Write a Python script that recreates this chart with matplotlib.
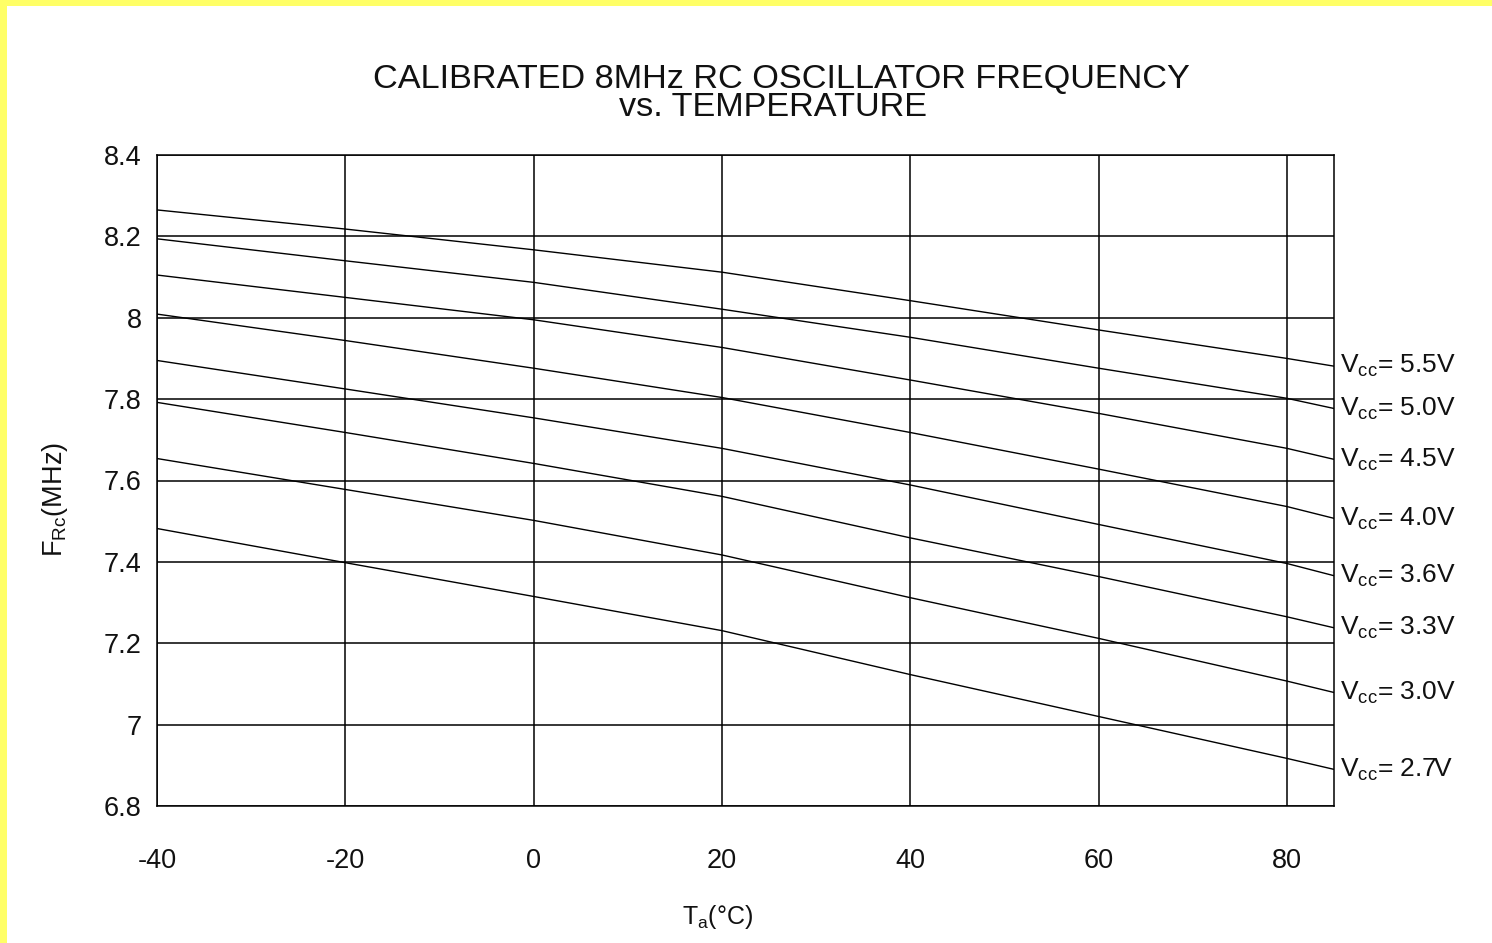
import matplotlib
matplotlib.use("Agg")
import matplotlib.pyplot as plt
from matplotlib.patches import Rectangle

plt.rcParams['font.family'] = ['Liberation Sans', 'DejaVu Sans']
plt.rcParams['axes.unicode_minus'] = False
plt.rcParams['mathtext.fontset'] = 'custom'
plt.rcParams['mathtext.rm'] = 'Liberation Sans'

# ---- data ----
temps = [-40, -20, 0, 20, 40, 60, 80, 85]
f_55 = [8.265, 8.218, 8.167, 8.112, 8.042, 7.970, 7.900, 7.881]
f_50 = [8.194, 8.140, 8.087, 8.021, 7.952, 7.876, 7.802, 7.777]
f_45 = [8.105, 8.050, 7.995, 7.927, 7.847, 7.765, 7.679, 7.652]
f_40 = [8.009, 7.944, 7.876, 7.804, 7.718, 7.628, 7.536, 7.507]
f_36 = [7.895, 7.825, 7.754, 7.679, 7.589, 7.492, 7.396, 7.366]
f_33 = [7.792, 7.718, 7.642, 7.561, 7.459, 7.364, 7.265, 7.238]
f_30 = [7.654, 7.578, 7.502, 7.417, 7.312, 7.212, 7.107, 7.079]
f_27 = [7.482, 7.398, 7.315, 7.231, 7.123, 7.020, 6.917, 6.890]
series = [f_55, f_50, f_45, f_40, f_36, f_33, f_30, f_27]
vcc_labels = ['5.5V', '5.0V', '4.5V', '4.0V', '3.6V', '3.3V', '3.0V', '2.7V']

x_ticks = [-40, -20, 0, 20, 40, 60, 80]
x_ticklabels = ['-40', '-20', '0', '20', '40', '60', '80']
y_ticks = [6.8, 7.0, 7.2, 7.4, 7.6, 7.8, 8.0, 8.2, 8.4]
y_ticklabels = ['6.8', '7', '7.2', '7.4', '7.6', '7.8', '8', '8.2', '8.4']

title_line1 = 'CALIBRATED 8MHz RC OSCILLATOR FREQUENCY'
title_line2 = 'vs. TEMPERATURE'

# ---- figure ----
W, H = 1492, 943
fig = plt.figure(figsize=(W / 100, H / 100), dpi=100)
fig.patch.set_facecolor('white')

# yellow frame strips (top and left)
fig.patches.append(Rectangle((0, 1 - 6 / H), 1, 6 / H, transform=fig.transFigure,
                             facecolor='#ffff66', edgecolor='none', zorder=0))
fig.patches.append(Rectangle((0, 0), 7 / W, 1, transform=fig.transFigure,
                             facecolor='#ffff66', edgecolor='none', zorder=0))

left, right, top, bottom = 157, 1334, 155, 806
ax = fig.add_axes([left / W, 1 - bottom / H, (right - left) / W, (bottom - top) / H])

for ys in series:
    ax.plot(temps, ys, color='black', lw=1.0, zorder=3)

ax.set_xlim(-40, 85)
ax.set_ylim(6.8, 8.4)
ax.set_xticks(x_ticks)
ax.set_xticklabels(x_ticklabels)
ax.set_yticks(y_ticks)
ax.set_yticklabels(y_ticklabels)
ax.tick_params(axis='both', length=0, labelsize=19.5, colors='#111111')
ax.tick_params(axis='x', pad=30)
ax.tick_params(axis='y', pad=11)
ax.grid(True, color='black', lw=1.1, zorder=1)
for s in ax.spines.values():
    s.set_linewidth(1.1)
    s.set_color('black')

for ys, lab in zip(series, vcc_labels):
    ax.annotate(r'V$_{\mathregular{cc}}$= ' + lab, xy=(temps[-1], ys[-1]),
                xytext=(4, 0), textcoords='offset points', va='center', ha='left',
                fontsize=19, color='#111111', annotation_clip=False)

fig.text(781 / W, 1 - 79 / H, title_line1, ha='center', va='center',
         fontsize=24.7, color='#111111')
fig.text(773 / W, 1 - 107 / H, title_line2, ha='center', va='center',
         fontsize=24.7, color='#111111')

fig.text(55 / W, 1 - 500 / H, r'F$_{\mathregular{Rc}}$(MHz)', rotation=90,
         ha='center', va='center', fontsize=19.5, color='#111111')
fig.text(718 / W, 1 - 917 / H, r'T$_{\mathregular{a}}$(°C)', ha='center',
         va='center', fontsize=18, color='#111111')

fig.savefig('out.png', dpi=100)
